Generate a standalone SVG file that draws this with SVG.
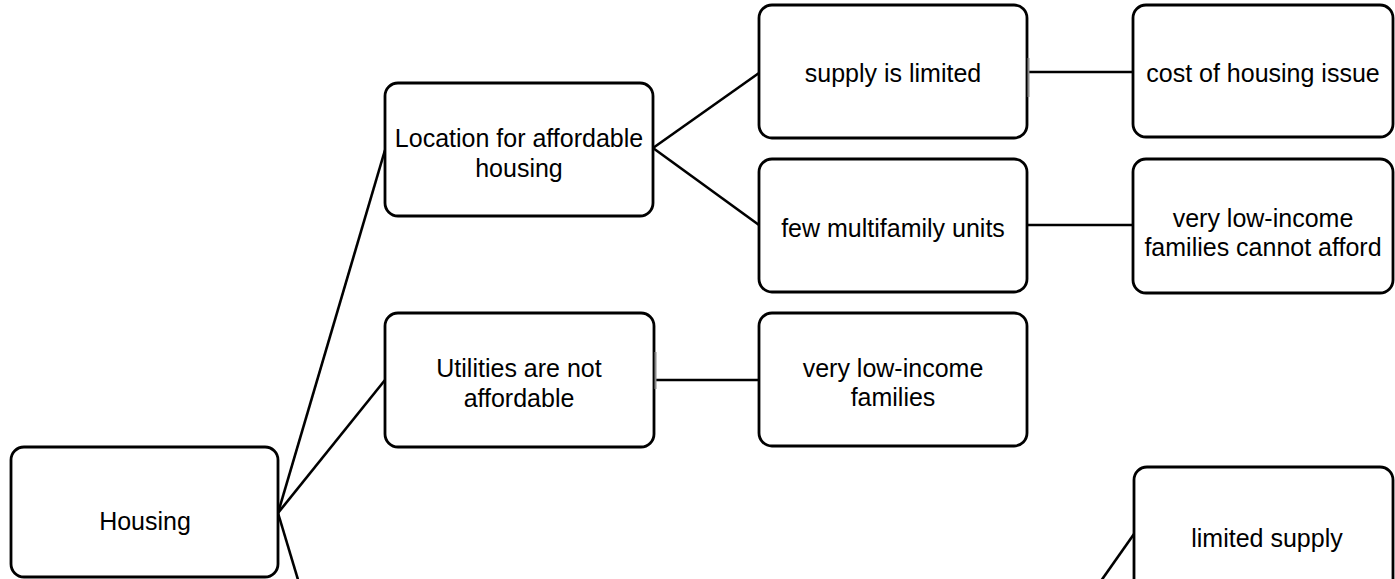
<svg xmlns="http://www.w3.org/2000/svg" width="1395" height="579" viewBox="0 0 1395 579">
<style>
.box{fill:#fff;stroke:#000;stroke-width:2.8}
.lbl{font-family:"Liberation Sans",Arial,sans-serif;font-size:25px;fill:#000;text-anchor:middle}
.ln{stroke:#000;stroke-width:2.6;fill:none}
.art{stroke:#8a8a8a;stroke-width:2;fill:none}
</style>
<rect width="1395" height="579" fill="#fff"/>
<g id="connectors">
<line class="ln" x1="278" y1="513" x2="385" y2="150"/>
<line class="ln" x1="278" y1="513" x2="385" y2="380"/>
<line class="ln" x1="278" y1="513" x2="300.5" y2="588"/>
<line class="ln" x1="653" y1="148" x2="759" y2="73"/>
<line class="ln" x1="653" y1="148" x2="759" y2="225"/>
<line class="ln" x1="1027" y1="72" x2="1133" y2="72"/>
<line class="ln" x1="1027" y1="225" x2="1133" y2="225"/>
<line class="ln" x1="654" y1="380" x2="759" y2="380"/>
<line class="ln" x1="1134" y1="534" x2="1096" y2="588"/>
</g>
<g id="housing">
<rect class="box" x="11" y="447" width="267" height="130" rx="13"/>
<text class="lbl" x="145" y="530">Housing</text>
</g>
<g id="location">
<rect class="box" x="385" y="83" width="268" height="133" rx="13"/>
<text class="lbl" x="519" y="147">Location for affordable</text>
<text class="lbl" x="519" y="177">housing</text>
</g>
<g id="utilities">
<rect class="box" x="385" y="313" width="269" height="134" rx="13"/>
<line class="art" x1="655.5" y1="352" x2="655.5" y2="389"/>
<text class="lbl" x="519" y="377">Utilities are not</text>
<text class="lbl" x="519" y="407">affordable</text>
</g>
<g id="supply-limited">
<rect class="box" x="759" y="5" width="268" height="133" rx="13"/>
<line class="art" x1="1028.5" y1="58" x2="1028.5" y2="97"/>
<text class="lbl" x="893" y="82">supply is limited</text>
</g>
<g id="few-multifamily">
<rect class="box" x="759" y="159" width="268" height="133" rx="13"/>
<text class="lbl" x="893" y="237">few multifamily units</text>
</g>
<g id="very-low-income-families">
<rect class="box" x="759" y="313" width="268" height="133" rx="13"/>
<text class="lbl" x="893" y="377">very low-income</text>
<text class="lbl" x="893" y="406">families</text>
</g>
<g id="cost-of-housing">
<rect class="box" x="1133" y="5" width="260" height="132" rx="13"/>
<text class="lbl" x="1263" y="82">cost of housing issue</text>
</g>
<g id="cannot-afford">
<rect class="box" x="1133" y="159" width="260" height="134" rx="13"/>
<text class="lbl" x="1263" y="227">very low-income</text>
<text class="lbl" x="1263" y="256">families cannot afford</text>
</g>
<g id="limited-supply">
<rect class="box" x="1134" y="467" width="259" height="133" rx="13"/>
<text class="lbl" x="1267" y="547">limited supply</text>
</g>
</svg>
